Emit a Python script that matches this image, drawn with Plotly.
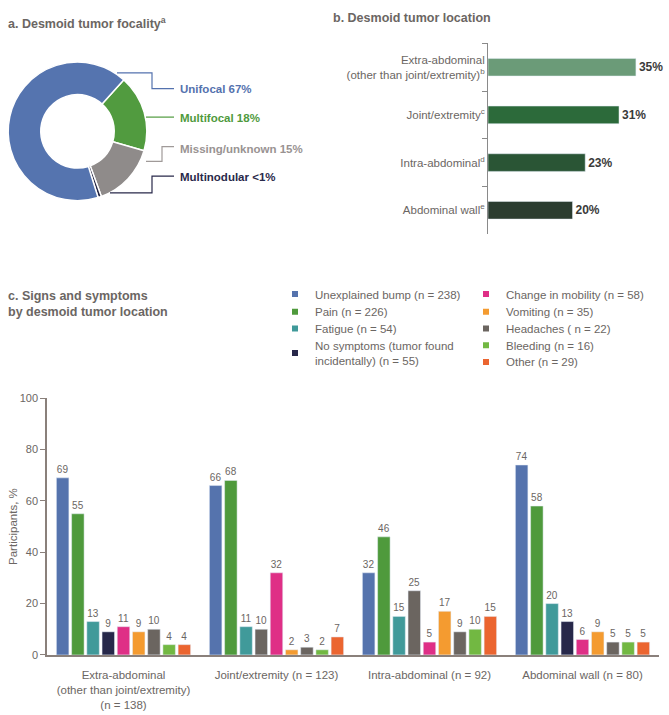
import plotly.graph_objects as go

W, H = 669, 715
def fx(p): return p / W
def fy(p): return 1 - p / H

FONT = "Liberation Sans, Arial, sans-serif"
GRAY_TXT = "#6b6663"

# ---------- Panel a: focality ----------
focality_labels = ["Multifocal", "Missing/unknown", "Multinodular", "Unifocal"]
focality_values = [18, 15, 0.8, 67]
focality_text = ["Multifocal 18%", "Missing/unknown 15%", "Multinodular <1%", "Unifocal 67%"]
focality_colors = ["#519b3f", "#8f8b8a", "#252642", "#5574af"]
focality_text_colors = ["#4f9a3d", "#999392", "#29294a", "#5472ae"]

# ---------- Panel b: location ----------
location_labels = [
    "Extra-abdominal<br>(other than joint/extremity)<sup>b</sup>",
    "Joint/extremity<sup>c</sup>",
    "Intra-abdominal<sup>d</sup>",
    "Abdominal wall<sup>e</sup>",
]
location_values = [35, 31, 23, 20]
location_colors = ["#6b9b78", "#2c6a3a", "#2a5535", "#2b3c30"]

# ---------- Panel c: signs and symptoms ----------
groups = [
    "Extra-abdominal<br>(other than joint/extremity)<br>(n = 138)",
    "Joint/extremity (n = 123)",
    "Intra-abdominal (n = 92)",
    "Abdominal wall (n = 80)",
]
symptom_names = [
    "Unexplained bump (n = 238)",
    "Pain (n = 226)",
    "Fatigue (n = 54)",
    "No symptoms (tumor found<br>incidentally) (n = 55)",
    "Change in mobility (n = 58)",
    "Vomiting (n = 35)",
    "Headaches ( n = 22)",
    "Bleeding (n = 16)",
    "Other (n = 29)",
]
unexplained_bump = [69, 66, 32, 74]
pain = [55, 68, 46, 58]
fatigue = [13, 11, 15, 20]
no_symptoms = [9, 10, 25, 13]
change_in_mobility = [11, 32, 5, 6]
vomiting = [9, 2, 17, 9]
headaches = [10, 3, 9, 5]
bleeding = [4, 2, 10, 5]
other = [4, 7, 15, 5]
symptom_values = [unexplained_bump, pain, fatigue, no_symptoms, change_in_mobility,
                  vomiting, headaches, bleeding, other]
symptom_colors = ["#5573ad", "#4f9a3c", "#409a9a", "#27284a", "#df2f86",
                  "#f49b30", "#6b6560", "#72b842", "#eb6530"]
# bar colours as printed in the source (no-symptoms bars drawn grey in two groups)
no_symptoms_bar_colors = ["#27284a", "#6b6560", "#6b6560", "#27284a"]

# legend placement (text-left x, row centre y) in pixels
legend_pos = [(315, 293), (315, 311), (315, 328), (315, 353),
              (506, 293), (506, 311), (506, 328), (506, 345), (506, 362)]

fig = go.Figure()

fig.add_trace(go.Pie(
    labels=focality_labels, values=focality_values, hole=0.53, sort=False,
    direction="clockwise", rotation=42, textinfo="none",
    marker=dict(colors=focality_colors, line=dict(color="white", width=1.5)),
    domain=dict(x=[fx(7), fx(148)], y=[fy(198), fy(57)]),
    showlegend=False,
))

fig.add_trace(go.Bar(
    x=location_values, y=location_labels, orientation="h",
    marker=dict(color=location_colors), width=0.37,
    text=[f"{v}%" for v in location_values], textposition="outside",
    textfont=dict(family=FONT, size=12, color="#3a3a3a", weight="bold"),
    cliponaxis=False, xaxis="x2", yaxis="y2", showlegend=False,
))

for i, (name, vals, col) in enumerate(zip(symptom_names, symptom_values, symptom_colors)):
    colors = no_symptoms_bar_colors if i == 3 else col
    fig.add_trace(go.Bar(
        x=groups, y=vals, name=name, marker=dict(color=colors),
        text=vals, textposition="outside", constraintext="none",
        textfont=dict(family=FONT, size=10, color=GRAY_TXT),
        cliponaxis=False, showlegend=False, xaxis="x", yaxis="y",
    ))

legend_layouts = {}
for i, (name, col) in enumerate(zip(symptom_names, symptom_colors)):
    key = "legend" if i == 0 else f"legend{i + 1}"
    fig.add_trace(go.Scatter(
        x=[None], y=[None], mode="markers", name=name,
        marker=dict(symbol="square", size=6, color=col),
        legend=key, xaxis="x", yaxis="y", showlegend=True,
    ))
    tx, ty = legend_pos[i]
    legend_layouts[key] = dict(
        x=fx(tx - 40), y=fy(ty), xanchor="left", yanchor="middle",
        bgcolor="rgba(0,0,0,0)", font=dict(size=11.5, color=GRAY_TXT),
        itemclick=False, itemdoubleclick=False)

annotations = []
def ann(text, x, y, size, color, bold=False, xanchor="left", yanchor="middle", align="left"):
    annotations.append(dict(
        text=text, x=fx(x), y=fy(y), xref="paper", yref="paper",
        xanchor=xanchor, yanchor=yanchor, align=align, showarrow=False,
        font=dict(family=FONT, size=size, color=color, weight="bold" if bold else "normal"),
    ))

ann("a. Desmoid tumor focality<sup>a</sup>", 6, 17, 12.5, GRAY_TXT, bold=True)
ann("b. Desmoid tumor location", 331, 12, 12.5, GRAY_TXT, bold=True)
ann("c. Signs and symptoms<br>by desmoid tumor location", 6, 303, 12.5, GRAY_TXT, bold=True)

label_y = {"Unifocal": 84, "Multifocal": 114, "Missing/unknown": 145, "Multinodular": 174}
for lab, txt, tc in zip(focality_labels, focality_text, focality_text_colors):
    ann(txt, 178, label_y[lab], 11.5, tc, bold=True)

shapes = []
def path(points, color):
    d = "M" + " L".join(f"{fx(x)},{fy(y)}" for x, y in points)
    shapes.append(dict(type="path", path=d, xref="paper", yref="paper",
                       line=dict(color=color, width=1.2)))

path([(117, 68), (152, 68), (152, 84), (174, 84)], "#5472ae")
path([(146, 113), (174, 113)], "#4f9a3d")
path([(146, 158), (162, 158), (162, 143), (174, 143)], "#a09a99")
path([(110, 190), (152, 190), (152, 173), (174, 173)], "#29294a")

AX = "#8a807b"
fig.update_layout(
    width=W, height=H, margin=dict(l=0, r=0, t=0, b=0),
    paper_bgcolor="white", plot_bgcolor="white",
    font=dict(family=FONT, color=GRAY_TXT),
    barmode="group", bargap=0.105, bargroupgap=0.18,
    xaxis=dict(domain=[fx(47), fx(659)], anchor="y", showline=True, linecolor=AX,
               linewidth=1.5, ticks="", showgrid=False, zeroline=False,
               ticklabelstandoff=9,
               tickfont=dict(size=11.5, color=GRAY_TXT)),
    yaxis=dict(domain=[fy(660), fy(399)], anchor="x", range=[0, 100], dtick=20,
               showline=True, linecolor=AX, linewidth=1.5, ticks="outside",
               ticklen=5, tickcolor=AX, showgrid=False, zeroline=False,
               tickfont=dict(size=11, color=GRAY_TXT),
               title=dict(text="Participants, %", font=dict(size=11.5, color=GRAY_TXT), standoff=0)),
    xaxis2=dict(domain=[fx(488), fx(660)], anchor="y2", range=[0, 40.7], visible=False),
    yaxis2=dict(domain=[fy(232), fy(38)], anchor="x2", type="category",
                autorange="reversed", showline=True, linecolor="#8a8a8a", linewidth=1,
                ticks="outside", tickson="boundaries", ticklen=5, tickcolor="#8a8a8a",
                showgrid=False, zeroline=False,
                tickfont=dict(size=11.5, color=GRAY_TXT)),
    annotations=annotations, shapes=shapes,
    **legend_layouts,
)

fig.write_html("out.html")
